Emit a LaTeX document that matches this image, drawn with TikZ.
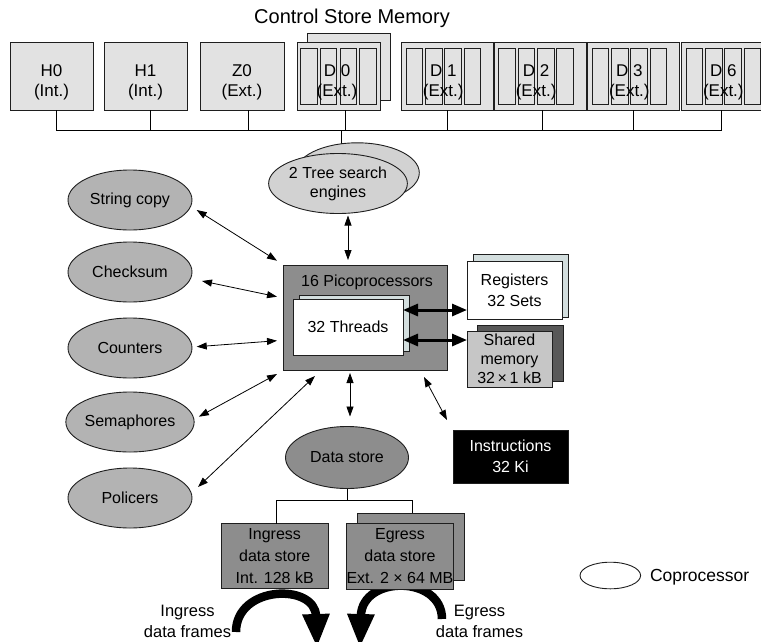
\documentclass[tikz,border=0pt]{standalone}
\usepackage{fontspec}
\setmainfont{Liberation Sans}
\usetikzlibrary{shapes.geometric,arrows.meta}
\pgfdeclarelayer{bg}
\pgfsetlayers{bg,main}
\definecolor{topfill}{HTML}{E2E2E2}
\definecolor{tsefill}{HTML}{D2D2D2}
\definecolor{cofill}{HTML}{B3B3B3}
\definecolor{dfill}{HTML}{8D8D8D}
\definecolor{shblue}{HTML}{D3DEDE}
\definecolor{smfill}{HTML}{C6C6C6}
\definecolor{smback}{HTML}{585858}
\definecolor{edge}{HTML}{1E1E1E}
\begin{document}
\begin{tikzpicture}[x=1pt,y=-1pt,
  every node/.style={inner sep=0pt, outer sep=0pt},
  f16/.style={font=\fontsize{16}{21}\selectfont, align=center},
  box/.style={draw=edge, line width=0.9pt, rectangle},
  topbox/.style={box, fill=topfill, minimum width=#1, minimum height=68pt},
  toptext/.style={font=\fontsize{17}{20}\selectfont, align=center},
  stripsty/.style={draw=edge, line width=0.8pt, fill=topfill},
  coell/.style={ellipse, draw=edge, line width=0.9pt, minimum width=124pt, minimum height=60pt, f16},
  arr/.style={line width=0.8pt, {Triangle[length=10pt,width=7pt]}-{Triangle[length=10pt,width=7pt]}},
  fat/.style={line width=3pt, {Triangle[length=15pt,width=12pt]}-{Triangle[length=15pt,width=12pt]}},
  bigarr/.style={line width=8.5pt, -{Triangle[length=34pt,width=25pt]}},
  wire/.style={line width=0.9pt, draw=black},
  ]
\useasboundingbox (0,0) rectangle (761,641);
\clip (0,0) rectangle (761,641);

% title
\node[font=\fontsize{20}{24}\selectfont] (title) at (352,18) {Control Store Memory};

% bus coordinates
\coordinate (bH0) at (56,130);
\coordinate (bH1) at (150.7,130);
\coordinate (bZ0) at (248.3,130);
\coordinate (bD0) at (345,130);
\coordinate (bT)  at (341,130);
\coordinate (bD1) at (447.7,130);
\coordinate (bD2) at (542.3,130);
\coordinate (bD3) at (633,130);
\coordinate (bD6) at (721.7,130);

% top boxes
\node[topbox=83pt] (h0) at (51.5,76) {};
\node[toptext] (h0t) at (51.5,82) {H0\\(Int.)};
\node[topbox=83pt] (h1) at (145.5,76) {};
\node[toptext] (h1t) at (145.5,82) {H1\\(Int.)};
\node[topbox=84pt] (z0) at (242,76) {};
\node[toptext] (z0t) at (242,82) {Z0\\(Ext.)};

\node[topbox=83pt, minimum height=67pt] (d0b) at (348.5,66.5) {};
\node[topbox=83pt] (d0) at (338.5,76) {};
\foreach \i in {0,...,3}
  \draw[stripsty] (300.7+\i*19.6,48.3) rectangle ++(16.5,55.7);
\node[toptext] (d0t) at (337,82) {D 0\\(Ext.)};

\foreach \L/\n in {401.7/1, 494.5/2, 587.7/3, 681.7/6} {
  \node[topbox=92pt] (d\n) at (\L+46,76) {};
  \foreach \i in {0,...,3}
    \draw[stripsty] (\L+4.3+\i*19.3,48.3) rectangle ++(16.7,55.7);
  \node[toptext] (dt\n) at (\L+41.6,82) {D \n\\(Ext.)};
}

% bus
\draw[wire] (bH0) -- (bD6);
\draw[wire] (h0.south -| bH0) -- (bH0);
\draw[wire] (h1.south -| bH1) -- (bH1);
\draw[wire] (z0.south -| bZ0) -- (bZ0);
\draw[wire] (d0.south -| bD0) -- (bD0);
\draw[wire] (d1.south -| bD1) -- (bD1);
\draw[wire] (d2.south -| bD2) -- (bD2);
\draw[wire] (d3.south -| bD3) -- (bD3);
\draw[wire] (d6.south -| bD6) -- (bD6);

% tree search engines
\node[coell, fill=tsefill] (tseb) at (357.3,172.8) {};
\node[coell, fill=tsefill, font=\fontsize{16}{19}\selectfont] (tse) at (338,183.5) {2 Tree search\\engines};
\begin{pgfonlayer}{bg}
\draw[wire] (bT) -- (bT |- tseb.center);
\end{pgfonlayer}

% coprocessors on the left
\node[coell, fill=cofill] (sc) at (130,200) {String copy};
\node[coell, fill=cofill] (cs) at (130,272) {Checksum};
\node[coell, fill=cofill] (ct) at (130,348) {Counters};
\node[coell, fill=cofill] (se) at (130,422) {Semaphores};
\node[coell, fill=cofill] (po) at (130,498) {Policers};

% picoprocessors
\node[box, fill=dfill, minimum width=164pt, minimum height=105pt] (pico) at (365,317.5) {};
\node[f16] (picot) at (367,282) {16 Picoprocessors};
\node[box, fill=shblue, minimum width=110pt, minimum height=56pt] (thb) at (354,323) {};
\node[box, fill=white, minimum width=110pt, minimum height=56pt, f16] (th) at (348,327) {32 Threads};

% registers and shared memory
\node[box, fill=shblue, minimum width=95pt, minimum height=63pt] (regb) at (520.5,285.5) {};
\node[box, fill=white, minimum width=95pt, minimum height=58pt, f16] (reg) at (514.5,290) {Registers\\32 Sets};
\node[box, fill=smback, minimum width=86pt, minimum height=56pt] (smb) at (520,353) {};
\node[box, fill=smfill, minimum width=85pt, minimum height=56pt, font=\fontsize{16}{19}\selectfont, align=center] (sm) at (509.5,359) {Shared\\memory\\32\,×\,1 kB};

\coordinate (f1) at (0,310);
\coordinate (f2) at (0,340);
\draw[fat] (th.east |- f1) -- (reg.west |- f1);
\draw[fat] (th.east |- f2) -- (sm.west |- f2);

% thin arrows
\draw[arr] ([shift={(10,2)}]tse.south) -- ([shift={(-17,-5)}]pico.north);
\draw[arr] ([shift={(4.7,10)}]sc.east) -- ([shift={(-6,-4.3)}]pico.north west);
\draw[arr] ([shift={(10,9)}]cs.east) -- ([shift={(-6,-20.8)}]pico.west);
\draw[arr] ([shift={(4.7,-1.3)}]ct.east) -- ([shift={(-6,23.2)}]pico.west);
\draw[arr] ([shift={(4.7,-5.3)}]se.east) -- ([shift={(-6,4)}]pico.south west);
\draw[arr] ([shift={(6,-11)}]po.east) -- ([shift={(32,6)}]pico.south west);

% data store
\node[coell, fill=dfill, minimum width=123pt, minimum height=62pt] (ds) at (347,457.5) {Data store};
\draw[arr] ([shift={(-15,3)}]pico.south) -- ([shift={(3,-10)}]ds.north);

% instructions
\node[box, fill=black, text=white, minimum width=115pt, minimum height=53pt, f16] (ins) at (510.5,456.5) {Instructions\\32 Ki};
\draw[arr] ([shift={(-23,7)}]pico.south east) -- ([shift={(-6,-10)}]ins.north west);

% data stores
\node[box, fill=dfill, minimum width=107pt, minimum height=65pt, font=\fontsize{16}{22}\selectfont, align=center] (ing) at (274.7,556) {Ingress\\data store\\Int. 128 kB};
\node[box, fill=dfill, minimum width=107pt, minimum height=67pt] (egb) at (411.3,546.7) {};
\node[box, fill=dfill, minimum width=107pt, minimum height=66pt, font=\fontsize{16}{22}\selectfont, align=center] (eg) at (400,556.3) {Egress\\data store\\Ext. 2 × 64 MB};

\coordinate (dsj) at (347,500.7);
\coordinate (jL) at (276.7,500.7);
\coordinate (jR) at (412.3,500.7);
\draw[wire] (ds.south) -- (dsj);
\draw[wire] (ing.north -| jL) |- (jR) -- (egb.north -| jR);

% data frame arrows (behind the boxes)
\coordinate (inA) at (236,632);
\coordinate (inB) at (317,648);
\coordinate (egA) at (442,619);
\coordinate (egB) at (360,648);
\begin{pgfonlayer}{bg}
\draw[bigarr] (inA) .. controls (236,585) and (315,583) .. (inB);
\draw[bigarr] (egA) .. controls (442,575) and (362,575) .. (egB);
\end{pgfonlayer}

\node[font=\fontsize{16.5}{21}\selectfont, align=center] (inlab) at (187.5,621.7) {Ingress\\data frames};
\node[font=\fontsize{16.5}{21}\selectfont, align=center] (eglab) at (479.5,621) {Egress\\data frames};

% legend
\node[ellipse, draw=edge, line width=0.9pt, fill=white, minimum width=60.6pt, minimum height=26.6pt] (leg) at (610.3,575.5) {};
\node[anchor=west, font=\fontsize{17.5}{21}\selectfont] (legt) at (650,577.5) {Coprocessor};
\end{tikzpicture}
\end{document}
